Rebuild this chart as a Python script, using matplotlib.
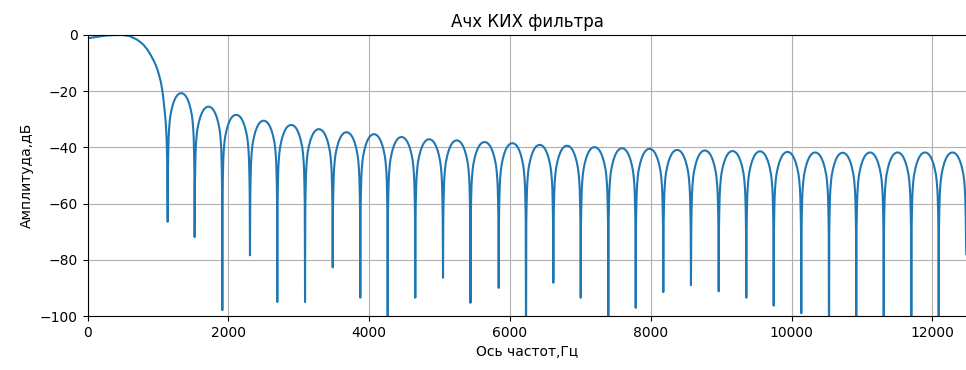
import matplotlib
matplotlib.use("Agg")
import matplotlib.pyplot as plt
import numpy as np

# main lobe, read point by point (Hz, dB)
main_hz = [0, 100, 200, 300, 400, 500, 600, 650, 700, 750, 800, 850, 900, 940,
           970, 1000, 1020, 1040, 1060, 1075, 1087, 1100, 1111, 1122, 1130]
main_db = [-1.2, -0.8, -0.4, -0.1, 0.0, 0.0, -0.4, -1.0, -1.6, -2.5, -3.6, -5.2, -7.2, -9.1,
           -10.7, -12.8, -14.6, -16.5, -19.3, -22.0, -24.8, -28.0, -31.0, -36.0, -43.0]

# side lobe nulls (Hz) and their depths (dB); -120 = goes below the axis
null_hz = [1139, 1522, 1915, 2308, 2696, 3090, 3483, 3875, 4264, 4656,
           5050, 5440, 5841, 6229, 6617, 7006, 7398, 7787, 8179, 8572,
           8966, 9358, 9747, 10139, 10533, 10920, 11310, 11702, 12091, 12482]
null_db = [-66.5, -71.9, -97.9, -78.4, -95.0, -95.0, -82.7, -93.5, -120, -93.5,
           -86.4, -95.3, -90.0, -120, -88.2, -93.5, -120, -97.1, -91.5, -89.0,
           -91.2, -93.5, -96.3, -99.0, -120, -120, -120, -120, -120, -78.0]

# side lobe peak levels (dB), one per lobe between consecutive nulls
peak_db = [-20.7, -25.5, -28.4, -30.5, -32.0, -33.5, -34.6, -35.3, -36.3, -37.1,
           -37.5, -38.1, -38.5, -39.1, -39.4, -39.9, -40.3, -40.5, -40.9, -41.1,
           -41.3, -41.4, -41.6, -41.8, -41.9, -41.8, -41.8, -41.8, -41.8]

# shape of one side lobe: position across lobe, dB below its peak
lobe_pos = [0.01, 0.02, 0.035, 0.05, 0.075, 0.1, 0.15, 0.2, 0.25, 0.3, 0.35, 0.4, 0.45, 0.5,
            0.55, 0.6, 0.65, 0.7, 0.75, 0.8, 0.85, 0.9, 0.925, 0.95, 0.965, 0.98, 0.99]
lobe_rel = [-28, -22, -16, -13, -10, -8, -5.6, -3.8, -2.5, -1.5, -0.8, -0.35, -0.08, 0,
            -0.08, -0.35, -0.8, -1.5, -2.5, -3.8, -5.6, -8, -10, -13, -16, -22, -28]

freq = list(main_hz)
amp = list(main_db)
for i in range(len(peak_db)):
    a, b = null_hz[i], null_hz[i + 1]
    freq.append(a)
    amp.append(null_db[i])
    for p, r in zip(lobe_pos, lobe_rel):
        freq.append(a + p * (b - a))
        amp.append(peak_db[i] + r)
freq.append(null_hz[-1])
amp.append(null_db[-1])

fig = plt.figure(figsize=(9.66, 3.70), dpi=100)
ax = fig.add_axes([87.5 / 966, 54 / 370, 880 / 966, 281 / 370])
ax.plot(freq, amp, color="#1f77b4", linewidth=1.5)
ax.set_xlim(0, 12500)
ax.set_ylim(-100, 0)
ax.grid(True)
ax.spines["right"].set_visible(False)  # cut off by the image edge in the original
ax.set_title("Ачх КИХ фильтра")
ax.set_xlabel("Ось частот,Гц")
ax.set_ylabel("Амплитуда,дБ")

fig.savefig("out.png", dpi=100)
